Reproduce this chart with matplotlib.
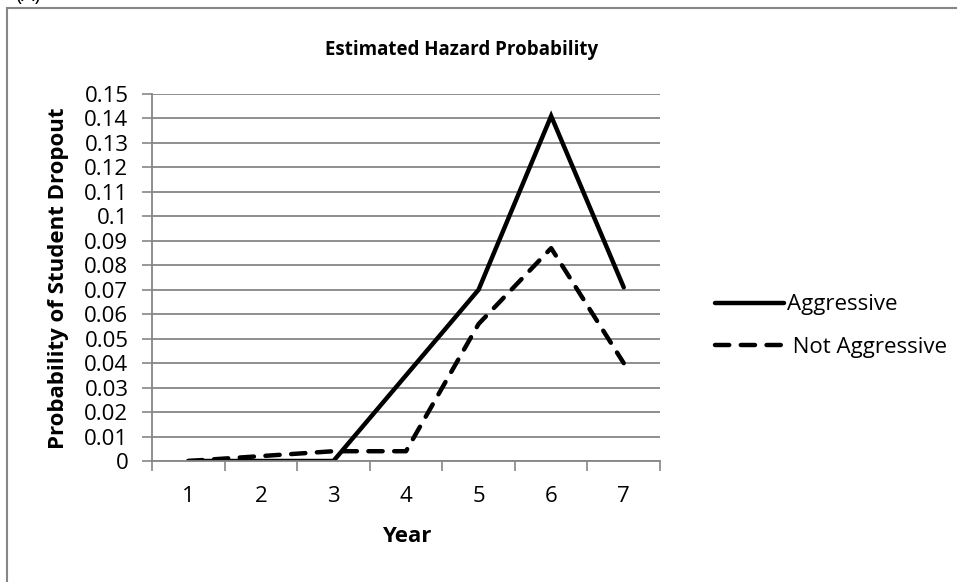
import matplotlib
matplotlib.use("Agg")
import matplotlib.pyplot as plt
from matplotlib.patches import Rectangle
import numpy as np

years = ["1", "2", "3", "4", "5", "6", "7"]
aggressive = [0.0, 0.0, 0.0, 0.035, 0.07, 0.141, 0.071]
not_aggressive = [0.0, 0.002, 0.004, 0.004, 0.056, 0.087, 0.04]
yticks = [0, 0.01, 0.02, 0.03, 0.04, 0.05, 0.06, 0.07, 0.08, 0.09, 0.1, 0.11, 0.12, 0.13, 0.14, 0.15]
ytick_labels = ["0", "0.01", "0.02", "0.03", "0.04", "0.05", "0.06", "0.07", "0.08", "0.09", "0.1",
                "0.11", "0.12", "0.13", "0.14", "0.15"]

plt.rcParams['font.family'] = ['Open Sans', 'DejaVu Sans']
W, H = 957, 582
fig = plt.figure(figsize=(W / 100, H / 100), dpi=100)

# outer chart border
fig.patches.append(Rectangle((7 / W, -0.1), 1.2, 1 - 8 / H + 0.1, transform=fig.transFigure,
                             fill=False, edgecolor="#868686", linewidth=1.5))
fig.text(28 / W, 1 + 5 / H, "(A)", fontsize=15, ha="center", va="center")

ax = fig.add_axes([152 / W, 1 - 461 / H, (660 - 152) / W, (461 - 94) / H])
x = np.arange(len(years))
ax.plot(x, aggressive, color="black", linewidth=3.2, solid_capstyle="round",
        solid_joinstyle="miter", label="Aggressive")
ax.plot(x, not_aggressive, color="black", linewidth=3.2, linestyle=(0, (3.2, 2.6)),
        dash_capstyle="round", label=" Not Aggressive")

ax.set_xlim(-0.5, len(years) - 0.5)
ax.set_ylim(0, 0.15)
ax.set_yticks(yticks)
ax.set_yticklabels(ytick_labels)
ax.set_xticks(x)
ax.set_xticklabels(years)
ax.set_xticks(np.arange(-0.5, len(years), 1.0), minor=True)
ax.tick_params(axis="x", which="major", length=0, pad=18, labelsize=16)
ax.tick_params(axis="x", which="minor", length=7, width=1.2, color="#868686", direction="out")
ax.tick_params(axis="y", length=7, width=1.2, color="#868686", direction="out", labelsize=16, pad=10)
ax.grid(axis="y", color="#868686", linewidth=1.3)
ax.set_axisbelow(True)
for s in ["top", "right"]:
    ax.spines[s].set_visible(False)
for s in ["left", "bottom"]:
    ax.spines[s].set_color("#868686")
    ax.spines[s].set_linewidth(1.3)

fig.text(462 / W, 1 - 50 / H, "Estimated Hazard Probability", fontsize=13.5,
         fontweight="bold", ha="center", va="center")
fig.text(407 / W, 1 - 536 / H, "Year", fontsize=16, fontweight="bold", ha="center", va="center")
fig.text(59 / W, 1 - 278 / H, "Probability of Student Dropout", fontsize=16, fontweight="bold",
         ha="center", va="center", rotation=90)

fig.legend(loc="center left", bbox_to_anchor=(695 / W, 1 - 326 / H), frameon=False,
           fontsize=16, handlelength=3.1, handletextpad=0.15, labelspacing=0.95)

fig.savefig("out.png", dpi=100)
